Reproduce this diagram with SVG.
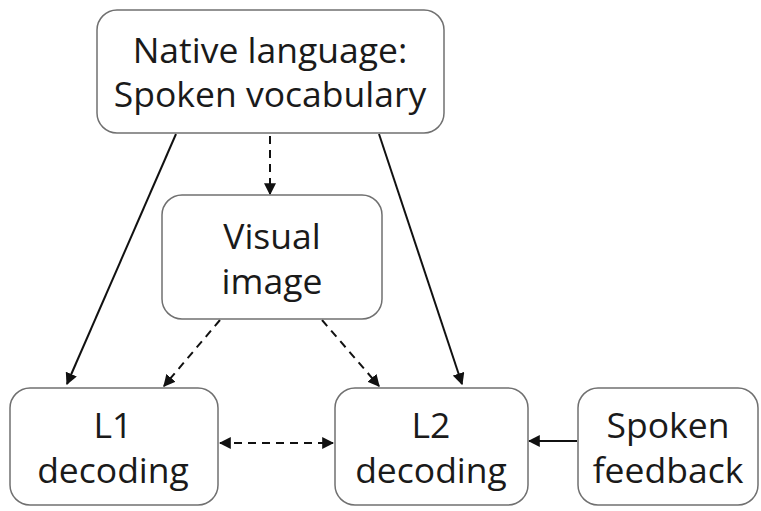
<svg xmlns="http://www.w3.org/2000/svg" width="761" height="511" viewBox="0 0 761 511">
<style>
.box{fill:#fff;stroke:#707070;stroke-width:1.5}
.t{font-family:"Open Sans","Liberation Sans",sans-serif;font-size:35.5px;fill:#1a1a1a;text-anchor:middle}
.c{stroke:#111;stroke-width:2;fill:none}
.d{stroke-dasharray:8 6}
</style>
<defs>
<marker id="ahb" viewBox="0 0 10 10" refX="9" refY="5" markerWidth="12" markerHeight="12" markerUnits="userSpaceOnUse" orient="auto-start-reverse">
<path d="M0,0 L10,5 L0,10 z" fill="#111"/>
</marker>
</defs>
<g id="connectors">
<line class="c" x1="176" y1="134" x2="67" y2="384" marker-end="url(#ahb)"/>
<line class="c" x1="379" y1="134" x2="462" y2="384" marker-end="url(#ahb)"/>
<line class="c d" x1="270" y1="136" x2="270" y2="194" marker-end="url(#ahb)"/>
<line class="c d" x1="220" y1="320" x2="164" y2="386" marker-end="url(#ahb)"/>
<line class="c d" x1="322" y1="320" x2="379" y2="386" marker-end="url(#ahb)"/>
<line class="c d" x1="220" y1="443" x2="333" y2="443" marker-start="url(#ahb)" marker-end="url(#ahb)"/>
<line class="c" x1="577" y1="441" x2="529" y2="441" marker-end="url(#ahb)"/>
</g>
<g id="native">
<rect class="box" x="97" y="10" width="347" height="123" rx="20"/>
<text class="t" x="270" y="63">Native language:</text>
<text class="t" x="270" y="107">Spoken vocabulary</text>
</g>
<g id="visual">
<rect class="box" x="162" y="195" width="220" height="124" rx="20"/>
<text class="t" x="272" y="249">Visual</text>
<text class="t" x="272" y="294">image</text>
</g>
<g id="l1">
<rect class="box" x="10" y="388" width="208" height="117" rx="20"/>
<text class="t" x="113" y="438">L1</text>
<text class="t" x="113" y="483">decoding</text>
</g>
<g id="l2">
<rect class="box" x="335" y="388" width="193" height="117" rx="20"/>
<text class="t" x="431" y="438">L2</text>
<text class="t" x="431" y="483">decoding</text>
</g>
<g id="spoken">
<rect class="box" x="578" y="388" width="180" height="117" rx="20"/>
<text class="t" x="668" y="438">Spoken</text>
<text class="t" x="668" y="483">feedback</text>
</g>
</svg>
